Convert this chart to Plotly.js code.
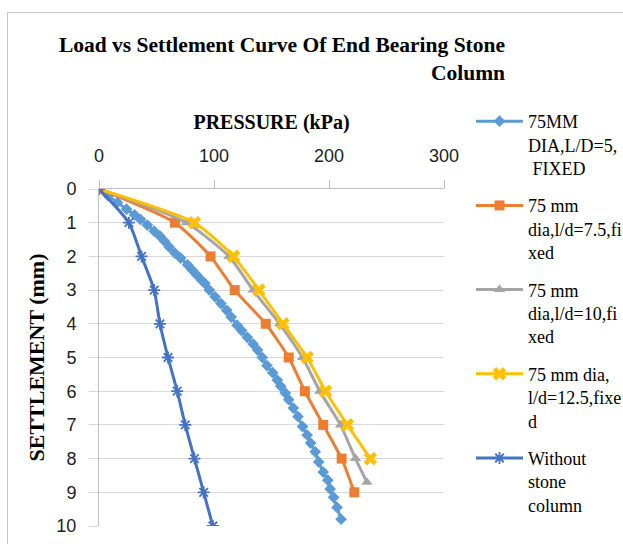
<!DOCTYPE html>
<html><head><meta charset="utf-8">
<script src="https://cdn.plot.ly/plotly-3.0.1.min.js"></script>
<style>
html,body{margin:0;padding:0;background:#fff;overflow:hidden;}
#frame{position:absolute;left:7px;top:12px;width:700px;height:600px;border:1.5px solid #c8c8c8;pointer-events:none;z-index:5;}
#chart{position:absolute;left:0;top:0;width:623px;height:544px;}
</style></head>
<body>
<div id="chart"></div>
<div id="frame"></div>
<script>
// Series data (pressure kPa vs settlement mm)
const names = [
  "75MM<br>DIA,L/D=5,<br> FIXED",
  "75 mm<br>dia,l/d=7.5,fi<br>xed",
  "75 mm<br>dia,l/d=10,fi<br>xed",
  "75 mm dia,<br>l/d=12.5,fixe<br>d",
  "Without<br>stone<br>column"
];
const ld5_settle = [0,0.2,0.4,0.6,0.77,0.9,1.07,1.25,1.4,1.55,1.72,1.9,2.05,2.25,2.4,2.55,2.7,2.8,3.0,3.2,3.4,3.6,3.8,4.04,4.2,4.4,4.6,4.78,5.0,5.24,5.45,5.67,5.85,6.05,6.25,6.5,6.75,7.05,7.3,7.54,7.8,8.1,8.4,8.64,8.9,9.15,9.45,9.8];
const ld5_press  = [0,8,16,24,31,36,42,48,53,57,61,66,71,77,81,85,89,92,96,101,106,111,115,120,124,129,134,138,142,146,151,155,158,162,165,169,173,177,181,184,188,191,195,199,201,204,207,210.5];
const ld75_settle = [0,1,2,3,4,5,6,7,8,9];
const ld75_press  = [0,66,97,118,145,165,179,195,211,222];
const ld10_settle = [0,1,2,3,4,5,6,7,8,8.7];
const ld10_press  = [0,76,113,134,157,177,192,210,223,233];
const ld125_settle = [0,1,2,3,4,5,6,7,8];
const ld125_press  = [0,83,117,139,160,181,197,216,236];
const none_settle = [0,1,2,3,4,5,6,7,8,9,10];
const none_press  = [0,26,37,48,53,60,68,75,83,91,99];
const xTicks = [0,100,200,300];
const yTicks = [0,1,2,3,4,5,6,7,8,9,10];

const colors = ["#5B9BD5","#ED7D31","#A5A5A5","#FFC000","#4472C4"];
const symbols = ["diamond","square","triangle-up","x","asterisk-open"];
const sizes = [9,10,10,12,10];
const xs = [ld5_press, ld75_press, ld10_press, ld125_press, none_press];
const ys = [ld5_settle, ld75_settle, ld10_settle, ld125_settle, none_settle];

const traces = xs.map((x,i)=>({
  type:"scatter", mode:"lines+markers", x:x, y:ys[i], name:names[i],
  legendgroup:"g"+i,
  line:{color:colors[i], width:3, shape:"spline", smoothing:0.6},
  marker:{symbol:symbols[i], size:sizes[i], color:colors[i],
          line:{color:colors[i], width: i===4 ? 1.8 : 0}}
}));

const serif = "Liberation Serif, Times New Roman, serif";
const sans = "Liberation Sans, Arial, sans-serif";
const layout = {
  width:623, height:544,
  margin:{l:99, r:179, t:189, b:18, pad:0},
  paper_bgcolor:"#fff", plot_bgcolor:"#fff",
  title:{text:"Load vs Settlement Curve Of End Bearing Stone<br>Column",
    font:{family:serif, size:21.5, color:"#000", weight:"bold"},
    x:505/623, xref:"container", xanchor:"right",
    y:1-52/544, yref:"container", yanchor:"top"},
  xaxis:{side:"top", range:[0,300], tickvals:xTicks, ticktext:xTicks.map(String),
    showgrid:false, zeroline:false, showline:true, linecolor:"#bfbfbf", linewidth:1,
    ticks:"outside", ticklen:8, tickcolor:"#bfbfbf", ticklabelstandoff:11,
    tickfont:{family:sans, size:18, color:"#222"},
    title:{text:"PRESSURE (kPa)", font:{family:serif, size:20, color:"#000", weight:"bold"}, standoff:10}},
  yaxis:{range:[10,0], tickvals:yTicks, ticktext:yTicks.map(String),
    showgrid:true, gridcolor:"#d9d9d9", gridwidth:1, zeroline:false,
    showline:true, linecolor:"#bfbfbf", linewidth:1,
    ticks:"outside", ticklen:9, tickcolor:"#d9d9d9", ticklabelstandoff:9,
    tickfont:{family:sans, size:18, color:"#222"},
    title:{text:"SETTLEMENT (mm)", font:{family:serif, size:22, color:"#000", weight:"bold"}, standoff:5}},
  showlegend:true,
  legend:{xref:"container", yref:"container", x:471/623, xanchor:"left", y:1-103/544, yanchor:"top",
    font:{family:serif, size:18, color:"#000"}, valign:"top",
    itemwidth:47, maxheight:600,
    tracegroupgap:11, bgcolor:"rgba(0,0,0,0)"}
};
Plotly.newPlot("chart", traces, layout, {displayModeBar:false, staticPlot:true});
</script>
</body></html>
